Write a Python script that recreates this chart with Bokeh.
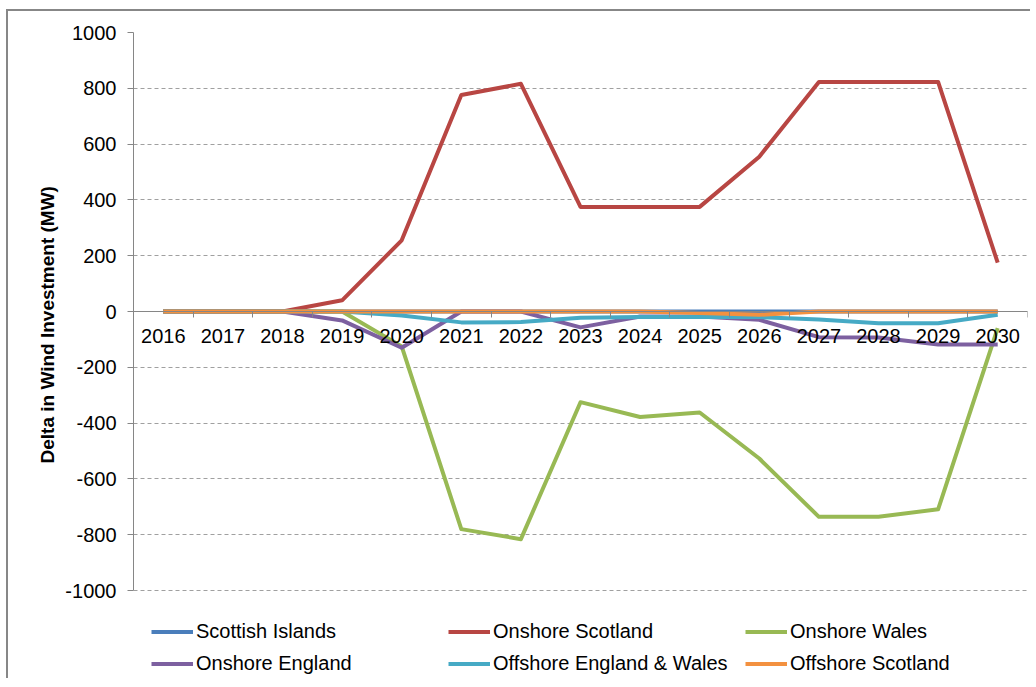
from bokeh.plotting import figure
from bokeh.models import Range1d, LinearAxis, FixedTicker, Legend, LegendItem, Title
from bokeh.embed import file_html
from bokeh.resources import INLINE

years = ["2016", "2017", "2018", "2019", "2020", "2021", "2022", "2023",
         "2024", "2025", "2026", "2027", "2028", "2029", "2030"]

scottish_islands = [0, 0, 0, 0, 0, 0, 0, 0, 0, 0, 0, 0, 0, 0, 0]
onshore_scotland = [0, 0, 0, 40, 255, 776, 816, 375, 375, 375, 555, 823, 823, 823, 175]
onshore_wales = [0, 0, 0, 0, -125, -780, -816, -325, -378, -362, -527, -736, -736, -709, -60]
onshore_england = [0, 0, 0, -32, -130, 0, 0, -57, -18, -18, -30, -92, -93, -118, -118]
offshore_ew = [0, 0, 0, 0, -14, -39, -38, -22, -20, -20, -20, -29, -42, -42, -12]
offshore_scotland = [0, 0, 0, 0, 0, 0, 0, 0, 0, -5, -12, 0, 0, 0, 0]

series_names = ["Scottish Islands", "Onshore Scotland", "Onshore Wales",
                "Onshore England", "Offshore England & Wales", "Offshore Scotland"]
series_values = [scottish_islands, onshore_scotland, onshore_wales,
                 onshore_england, offshore_ew, offshore_scotland]
series_colors = ["#4A7EBB", "#B84643", "#98B954", "#7D60A0", "#46AAC5", "#F39140"]

y_ticks = list(range(-1000, 1001, 200))
y_min, y_max = -1000, 1000
y_title = "Delta in Wind Investment (MW)"

FONT = "Liberation Sans"
GRAY = "#868686"

x_idx = list(range(len(years)))

# frame: top at 32px, axis -1000 at 590px, frame extended down to 680px for legend room
px_per_unit = (590 - 32) / (y_max - y_min)
y_start = y_max - (680 - 32) / px_per_unit

p = figure(width=1024, height=669, output_backend="svg", toolbar_location=None,
           x_range=Range1d(-0.5, len(years) - 0.5), y_range=Range1d(y_start, y_max),
           x_axis_location=None)
p.styles = {"margin-left": "6px", "margin-top": "9px",
            "border-left": "2px solid #878787", "border-top": "2px solid #878787"}
p.min_border = 0
p.min_border_left = 125
p.min_border_top = 21
p.min_border_right = 5
p.min_border_bottom = 0
p.outline_line_color = None
p.background_fill_color = "white"
p.border_fill_color = "white"

# y axis
yax = p.yaxis[0]
yax.bounds = (y_min, y_max)
yax.ticker = FixedTicker(ticks=y_ticks)
yax.major_label_overrides = {v: str(v) for v in y_ticks}
yax.axis_line_color = GRAY
yax.major_tick_line_color = GRAY
yax.major_tick_out = 6
yax.major_tick_in = 0
yax.minor_tick_line_color = None
yax.major_label_standoff = 11
yax.major_label_text_font = FONT
yax.major_label_text_font_size = "20px"
yax.major_label_text_color = "#000000"

# y axis title, placed along the -1000..1000 part of the axis
ytitle = Title(text=y_title, align="left", offset=217, standoff=10,
               text_font=FONT, text_font_size="19px", text_font_style="bold",
               text_color="#000000")
p.add_layout(ytitle, "left")

p.ygrid.ticker = FixedTicker(ticks=y_ticks)
p.ygrid.grid_line_color = "#A0A0A0"
p.ygrid.grid_line_dash = "4 3"
p.xgrid.grid_line_color = None

# lines
renderers = []
for name, vals, col in zip(series_names, series_values, series_colors):
    r = p.line(x_idx, vals, line_color=col, line_width=4, line_join="round")
    renderers.append(r)

# x axis at zero: boundary ticks
tick_axis = LinearAxis(ticker=FixedTicker(ticks=[i + 0.5 for i in x_idx]),
                       fixed_location=0)
tick_axis.major_label_overrides = {i + 0.5: "" for i in x_idx}
tick_axis.axis_line_color = GRAY
tick_axis.major_tick_line_color = GRAY
tick_axis.major_tick_out = 6
tick_axis.major_tick_in = 0
tick_axis.minor_tick_line_color = None
p.add_layout(tick_axis, "below")

# x axis labels at category centers
lab_axis = LinearAxis(ticker=FixedTicker(ticks=x_idx), fixed_location=0)
lab_axis.major_label_overrides = {i: y for i, y in zip(x_idx, years)}
lab_axis.axis_line_color = GRAY
lab_axis.major_tick_line_color = None
lab_axis.minor_tick_line_color = None
lab_axis.major_label_standoff = 11
lab_axis.major_label_text_font = FONT
lab_axis.major_label_text_font_size = "20px"
lab_axis.major_label_text_color = "#000000"
p.add_layout(lab_axis, "below")

legend = Legend(items=[LegendItem(label=n, renderers=[r]) for n, r in zip(series_names, renderers)],
                orientation="horizontal", ncols=3, location=(18, 4))
legend.margin = 0
legend.padding = 0
legend.spacing = 7
legend.glyph_width = 42
legend.glyph_height = 25
legend.label_height = 25
legend.label_width = 245
legend.label_standoff = 3
legend.label_text_font = FONT
legend.label_text_font_size = "20px"
legend.label_text_color = "#000000"
legend.border_line_color = None
legend.background_fill_color = None
legend.background_fill_alpha = 0
p.add_layout(legend, "center")

open("out.html", "w").write(file_html(p, INLINE))
